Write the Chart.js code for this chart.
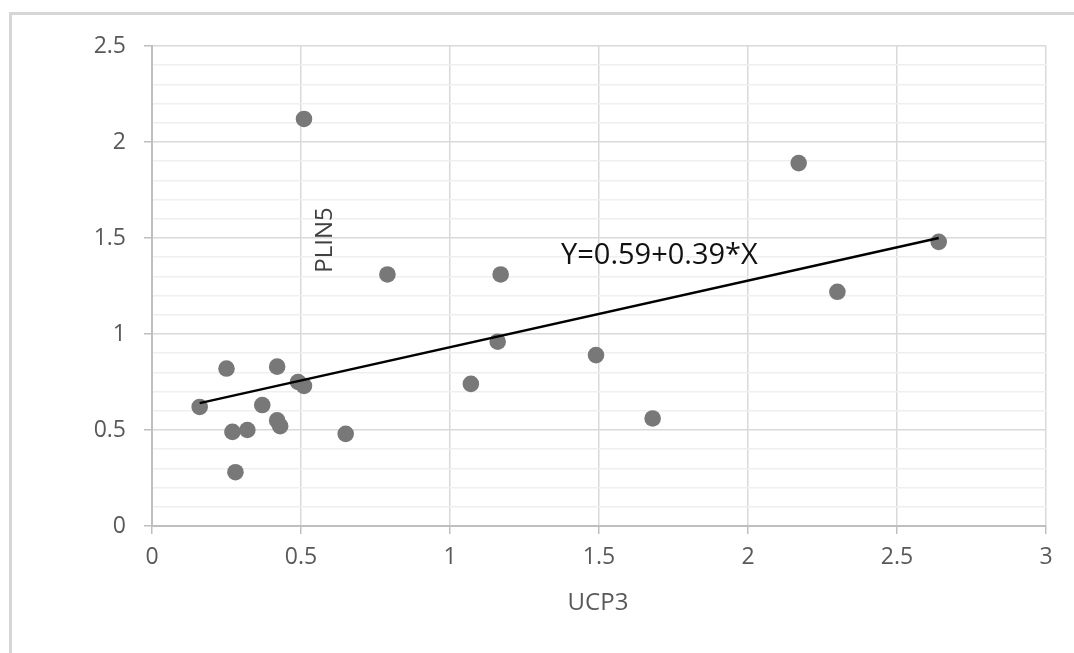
<!DOCTYPE html>
<html>
<head>
<meta charset="utf-8">
<script src="https://cdn.jsdelivr.net/npm/chart.js@4/dist/chart.umd.min.js"></script>
<style>
  html, body { margin: 0; padding: 0; background: #ffffff; }
  #wrap { position: relative; width: 1074px; height: 653px; }
</style>
</head>
<body>
<div id="wrap"><canvas id="c" width="1074" height="653"></canvas></div>
<script>
// Data
const ucp3  = [0.16, 0.25, 0.27, 0.28, 0.32, 0.37, 0.42, 0.42, 0.43, 0.49, 0.51, 0.51, 0.65, 0.79, 1.07, 1.16, 1.17, 1.49, 1.68, 2.17, 2.30, 2.64];
const plin5 = [0.62, 0.82, 0.49, 0.28, 0.50, 0.63, 0.83, 0.55, 0.52, 0.75, 0.73, 2.12, 0.48, 1.31, 0.74, 0.96, 1.31, 0.89, 0.56, 1.89, 1.22, 1.48];
const trendX = [0.16, 2.64];
const trendY = [0.64, 1.50];
const xTitle = 'UCP3';
const yTitle = 'PLIN5';
const equation = 'Y=0.59+0.39*X';

const FONT = '"Open Sans", "Liberation Sans", sans-serif';

const points = ucp3.map((x, i) => ({ x: x, y: plin5[i] }));
const trend = trendX.map((x, i) => ({ x: x, y: trendY[i] }));

const isMajorY = v => Math.abs(v * 2 - Math.round(v * 2)) < 1e-6;

const decor = {
  id: 'decor',
  beforeDraw(chart) {
    const ctx = chart.ctx;
    ctx.save();
    ctx.fillStyle = '#ffffff';
    ctx.fillRect(0, 0, chart.width, chart.height);
    ctx.fillStyle = '#d6d6d6';
    ctx.fillRect(9, 12, 3, chart.height - 12);
    ctx.fillRect(9, 12, chart.width - 9, 3);
    ctx.restore();
  },
  afterDatasetsDraw(chart) {
    const ctx = chart.ctx;
    ctx.save();
    // rotated y title inside plot
    ctx.fillStyle = '#404040';
    ctx.font = '24px ' + FONT;
    ctx.textAlign = 'center';
    ctx.textBaseline = 'middle';
    ctx.translate(325, 240);
    ctx.rotate(-Math.PI / 2);
    ctx.fillText(yTitle, 0, 0);
    ctx.restore();
    ctx.save();
    ctx.fillStyle = '#111111';
    ctx.font = '29px ' + FONT;
    ctx.textAlign = 'left';
    ctx.textBaseline = 'middle';
    ctx.fillText(equation, 561, 256);
    ctx.restore();
    ctx.save();
    ctx.fillStyle = '#595959';
    ctx.font = '24px ' + FONT;
    ctx.textAlign = 'center';
    ctx.textBaseline = 'middle';
    ctx.fillText(xTitle, 598, 603);
    ctx.restore();
  }
};

new Chart(document.getElementById('c'), {
  type: 'scatter',
  data: {
    datasets: [
      {
        type: 'line',
        data: trend,
        borderColor: '#000000',
        borderWidth: 2.5,
        pointRadius: 0,
        fill: false,
        order: 0
      },
      {
        data: points,
        backgroundColor: '#787878',
        borderColor: '#787878',
        pointRadius: 8.3,
        pointHoverRadius: 8.3,
        borderWidth: 0,
        order: 1
      }
    ]
  },
  options: {
    responsive: false,
    animation: false,
    events: [],
    layout: { padding: { left: 0, top: 46, right: 28, bottom: 0 } },
    plugins: {
      legend: { display: false },
      tooltip: { enabled: false },
      title: { display: false }
    },
    scales: {
      x: {
        type: 'linear',
        min: 0, max: 3,
        afterFit: s => { s.height = 127; },
        ticks: {
          stepSize: 0.5,
          color: '#595959',
          font: { family: FONT, size: 23 },
          padding: 10,
          maxRotation: 0,
          callback: v => String(Math.round(v * 10) / 10)
        },
        grid: {
          color: '#d9d9d9',
          lineWidth: 1.5,
          drawTicks: true,
          tickLength: 8,
          tickColor: '#bfbfbf'
        },
        border: { color: '#bfbfbf', width: 2 },
        title: { display: false }
      },
      y: {
        type: 'linear',
        min: 0, max: 2.5,
        afterFit: s => { s.width = 152; },
        ticks: {
          stepSize: 0.1,
          autoSkip: false,
          color: '#595959',
          font: { family: FONT, size: 23 },
          padding: 18,
          callback: v => isMajorY(v) ? String(Math.round(v * 10) / 10) : ''
        },
        grid: {
          color: ctx => isMajorY(ctx.tick.value) ? '#d9d9d9' : '#efefef',
          lineWidth: 1.5,
          drawTicks: true,
          tickLength: 8,
          tickColor: ctx => isMajorY(ctx.tick.value) ? '#bfbfbf' : 'rgba(0,0,0,0)'
        },
        border: { color: '#bfbfbf', width: 2 }
      }
    }
  },
  plugins: [decor]
});
</script>
</body>
</html>
